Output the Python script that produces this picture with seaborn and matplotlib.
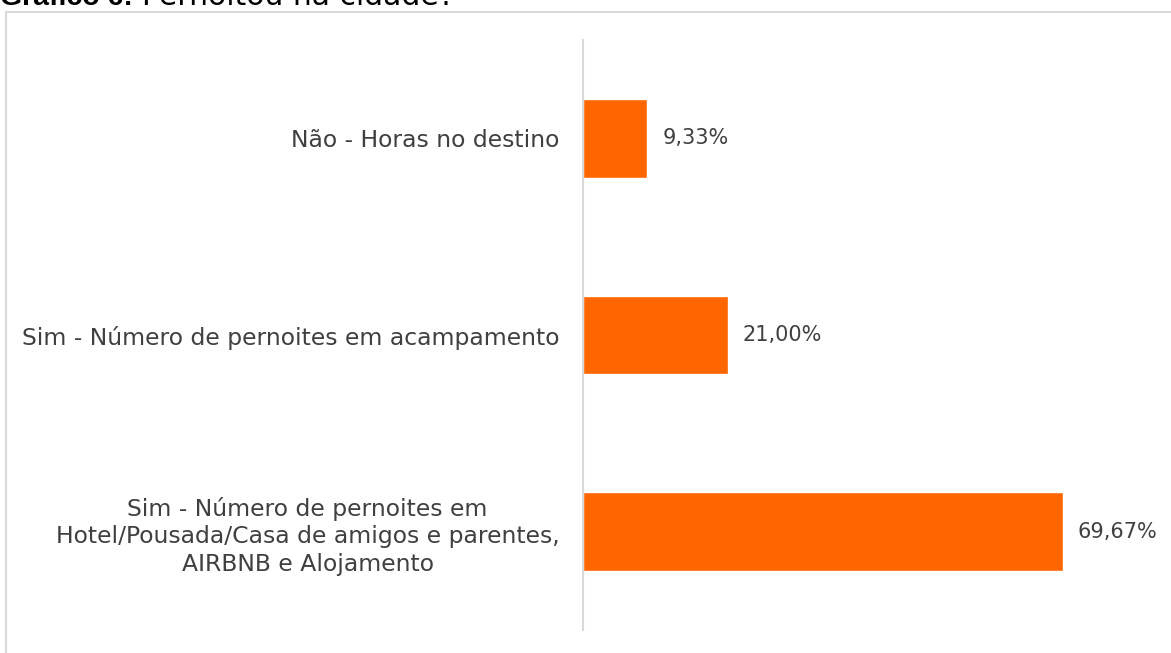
import matplotlib.pyplot as plt
import matplotlib.patches as patches
import seaborn as sns
import pandas as pd

# data
categorias = ["Não - Horas no destino",
              "Sim - Número de pernoites em acampamento",
              "Sim - Número de pernoites em\nHotel/Pousada/Casa de amigos e parentes,\nAIRBNB e Alojamento"]
percentuais = [9.33, 21.00, 69.67]

ds = pd.DataFrame({"categoria": categorias, "pct": percentuais})

sns.set_theme(style="white")
plt.rcParams["font.family"] = ["DejaVu Sans"]

cinza = "#404040"
laranja = "#FF6600"

fig = plt.figure(figsize=(11.71, 6.53), dpi=100)
ax = fig.add_axes([583 / 1171, 1 - 630 / 653, 544 / 1171, 590 / 653])

sns.barplot(data=ds, x="pct", y="categoria", orient="h", color=laranja,
            width=0.4, saturation=1, ax=ax)

ax.set_xlim(0, 79.0)
ax.set_xlabel("")
ax.set_ylabel("")
ax.set_xticks([])
for s in ["top", "right", "bottom"]:
    ax.spines[s].set_visible(False)
ax.spines["left"].set_color("#d9d9d9")
ax.spines["left"].set_linewidth(1.5)

ax.tick_params(axis="y", length=0, pad=17, labelsize=16.9, labelcolor=cinza)
for lbl in ax.get_yticklabels():
    lbl.set_multialignment("center")
    lbl.set_linespacing(1.25)

# value labels with comma decimal
for bar, v in zip(ax.patches, percentuais):
    ax.text(bar.get_width() + 2.2, bar.get_y() + bar.get_height() / 2,
            f"{v:.2f}%".replace(".", ","), va="center", ha="left",
            fontsize=15, color=cinza, clip_on=False)

# chart border box (runs off the right and bottom edge)
fig.patches.append(patches.Rectangle((6 / 1171, -0.05), 1.1, 1 - 12 / 653 + 0.05,
                                     transform=fig.transFigure, fill=False,
                                     edgecolor="#d9d9d9", linewidth=1.5))

# title, cut off at the top edge like the reference
t = fig.text(0.0, 1 - 5 / 653, "Gráfico 6:", fontsize=20.5, fontweight="bold",
             color="black", va="baseline", ha="left", family=["Liberation Sans"])
fig.canvas.draw()
bb = t.get_window_extent()
fig.text((bb.x1 + 9) / fig.bbox.width, 1 - 5 / 653, "Pernoitou na cidade?", fontsize=21.5,
         color="black", va="baseline", ha="left", family=["DejaVu Sans"])

fig.savefig("out.png", dpi=100)
